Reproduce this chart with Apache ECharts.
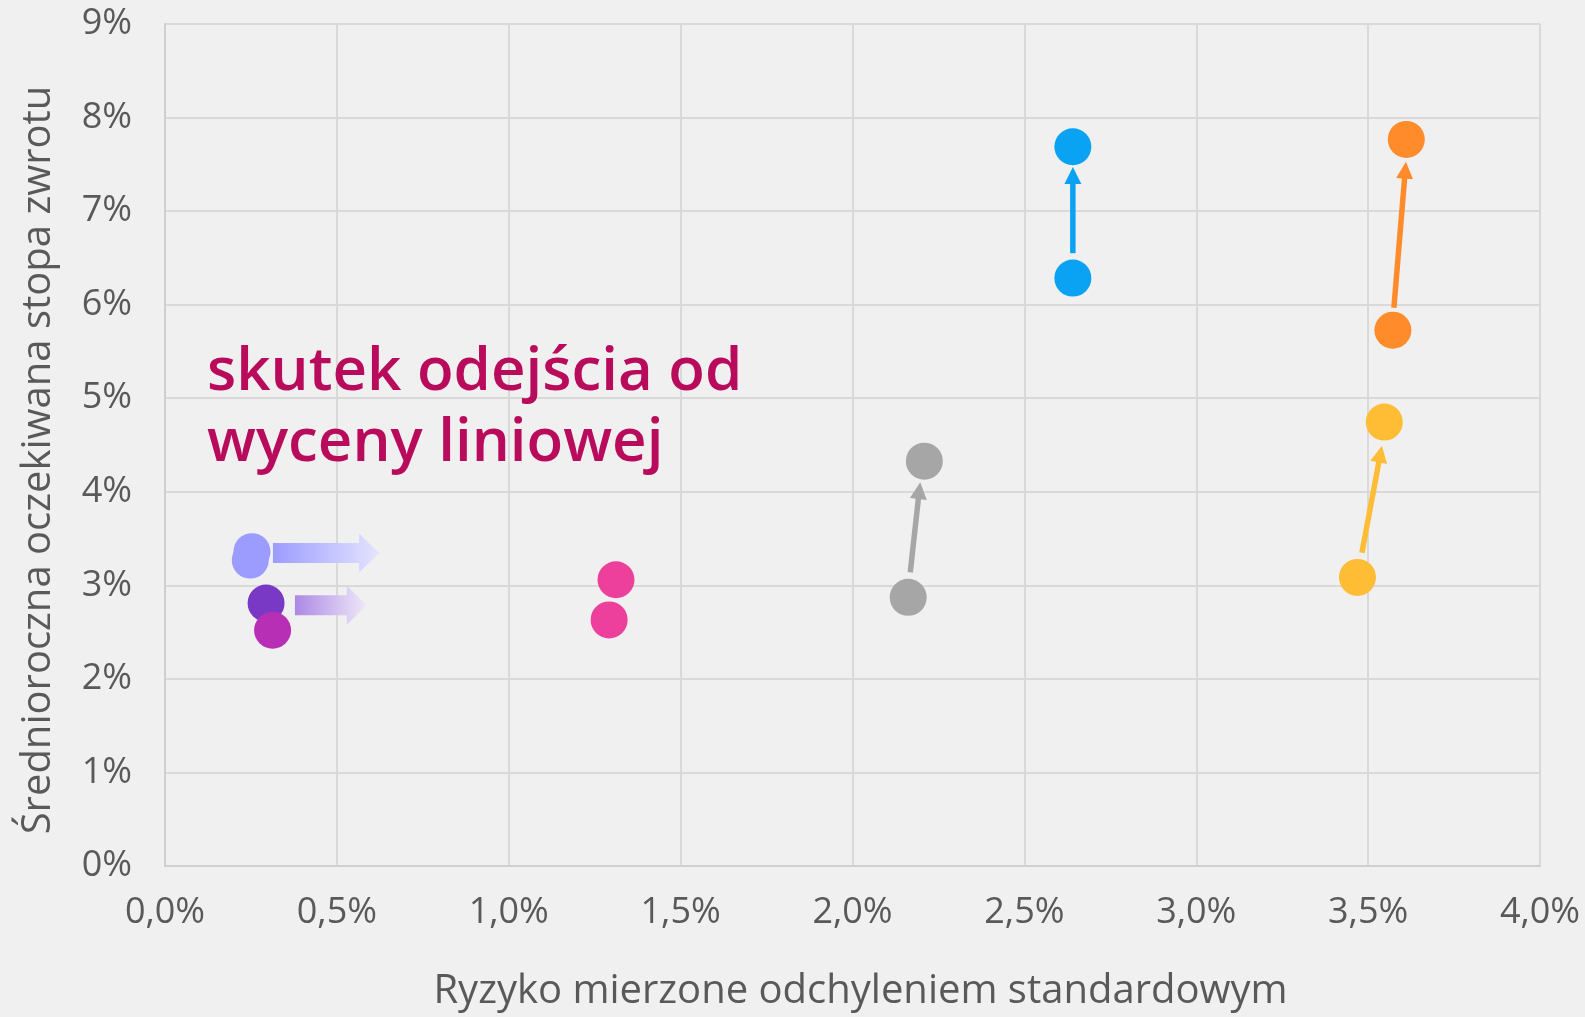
<!DOCTYPE html>
<html>
<head>
<meta charset="utf-8">
<script src="https://cdn.jsdelivr.net/npm/echarts@6/dist/echarts.min.js"></script>
<style>
  html, body { margin: 0; padding: 0; background: #F0F0F0; }
  #chart { width: 1585px; height: 1017px; }
</style>
</head>
<body>
<div id="chart"></div>
<script>
// ---- data ----
const xTickValues = [0, 0.5, 1, 1.5, 2, 2.5, 3, 3.5, 4];
const yTickValues = [0, 1, 2, 3, 4, 5, 6, 7, 8, 9];
const xAxisTitle = 'Ryzyko mierzone odchyleniem standardowym';
const yAxisTitle = 'Średnioroczna oczekiwana stopa zwrotu';
const annotationLines = ['skutek odejścia od', 'wyceny liniowej'];

// points (risk %, return %), group index
const pointRisk   = [0.253, 0.248, 0.294, 0.313, 1.312, 1.292, 2.162, 2.209, 2.641, 2.641, 3.469, 3.547, 3.572, 3.611];
const pointReturn = [3.36,  3.27,  2.81,  2.52,  3.06,  2.63,  2.872, 4.327, 6.284, 7.688, 3.085, 4.745, 5.727, 7.766];
const pointGroup  = [0, 0, 1, 2, 3, 3, 4, 4, 5, 5, 6, 6, 7, 7];

// line arrows (from -> to)
const arrowFromRisk   = [2.168, 2.641, 3.482, 3.575];
const arrowFromReturn = [3.138, 6.55,  3.348, 5.968];
const arrowToRisk     = [2.197, 2.641, 3.540, 3.610];
const arrowToReturn   = [4.103, 7.471, 4.493, 7.528];
const arrowGroup      = [4, 5, 6, 7];

// block (gradient) arrows, horizontal
const blockFromRisk = [0.314, 0.378];
const blockToRisk   = [0.623, 0.587];
const blockReturn   = [3.346, 2.787];
const blockGroup    = [0, 1];

// ---- styles ----
const groupColors = ['#9C9CFF', '#7A39C5', '#B72FB5', '#ED3F9C', '#A6A6A6', '#0AA2F2', '#FFBD36', '#FF8B2B'];
const blockEndColors = ['#E4E4FF', '#EFE9F9'];
const blockStartColors = ['#9C9CFF', '#AC88E4'];
const textColor = '#595959';
const gridColor = '#D9D9D9';
const fontFamily = '"Open Sans", Lato, sans-serif';

const chart = echarts.init(document.getElementById('chart'), null, { renderer: 'canvas' });

const pointData = pointRisk.map((x, i) => ({
  value: [x, pointReturn[i]],
  itemStyle: { color: groupColors[pointGroup[i]], opacity: 1 }
}));
const arrowData = arrowFromRisk.map((x, i) => [x, arrowFromReturn[i], arrowToRisk[i], arrowToReturn[i], arrowGroup[i]]);
const blockData = blockFromRisk.map((x, i) => [x, blockReturn[i], blockToRisk[i], blockReturn[i], blockGroup[i]]);

function renderLineArrow(params, api) {
  const s = api.coord([api.value(0), api.value(1)]);
  const e = api.coord([api.value(2), api.value(3)]);
  const color = groupColors[api.value(4)];
  const dx = e[0] - s[0], dy = e[1] - s[1];
  const len = Math.hypot(dx, dy);
  const ux = dx / len, uy = dy / len;
  const px = -uy, py = ux;
  const headLen = 17, headW = 8.5;
  const bx = e[0] - ux * headLen, by = e[1] - uy * headLen;
  return {
    type: 'group',
    children: [
      { type: 'line', shape: { x1: s[0], y1: s[1], x2: bx + ux * 2, y2: by + uy * 2 },
        style: { stroke: color, lineWidth: 5.5 } },
      { type: 'polygon', shape: { points: [[e[0], e[1]], [bx + px * headW, by + py * headW], [bx - px * headW, by - py * headW]] },
        style: { fill: color } }
    ]
  };
}

function renderBlockArrow(params, api) {
  const s = api.coord([api.value(0), api.value(1)]);
  const e = api.coord([api.value(2), api.value(3)]);
  const g = api.value(4);
  const bodyH = 10, headH = 19.5, headLen = 20;
  const bx = e[0] - headLen;
  const y = s[1];
  return {
    type: 'polygon',
    shape: { points: [
      [s[0], y - bodyH], [bx, y - bodyH], [bx, y - headH], [e[0], y],
      [bx, y + headH], [bx, y + bodyH], [s[0], y + bodyH]
    ] },
    style: {
      fill: { type: 'linear', x: 0, y: 0, x2: 1, y2: 0,
        colorStops: [{ offset: 0, color: blockStartColors[g] }, { offset: 1, color: blockEndColors[g] }] }
    }
  };
}

chart.setOption({
  backgroundColor: '#F0F0F0',
  animation: false,
  grid: { left: 165, right: 45, top: 24, bottom: 147, containLabel: false },
  xAxis: {
    type: 'value', min: 0, max: 4, interval: 0.5,
    name: xAxisTitle, nameLocation: 'middle', nameGap: 106,
    nameTextStyle: { color: textColor, fontSize: 40, fontFamily: fontFamily, padding: [0, 0, 0, 16] },
    axisLine: { show: true, lineStyle: { color: '#CFCFCF', width: 2 } },
    axisTick: { show: false },
    splitLine: { show: true, lineStyle: { color: gridColor, width: 2 } },
    axisLabel: {
      color: textColor, fontSize: 36, fontFamily: fontFamily, margin: 29,
      formatter: v => v.toFixed(1).replace('.', ',') + '%'
    }
  },
  yAxis: {
    type: 'value', min: 0, max: 9, interval: 1,
    name: yAxisTitle, nameLocation: 'middle', nameGap: 106,
    nameTextStyle: { color: textColor, fontSize: 40, fontFamily: fontFamily, padding: [0, 30, 0, 0] },
    axisLine: { show: true, lineStyle: { color: '#CFCFCF', width: 2 } },
    axisTick: { show: false },
    splitLine: { show: true, lineStyle: { color: gridColor, width: 2 } },
    axisLabel: {
      color: textColor, fontSize: 36, fontFamily: fontFamily, margin: 33,
      formatter: v => v + '%'
    }
  },
  series: [
    { type: 'custom', name: 'blockArrows', renderItem: renderBlockArrow, data: blockData,
      encode: { x: [0, 2], y: [1, 3] }, z: 2, silent: true },
    { type: 'custom', name: 'lineArrows', renderItem: renderLineArrow, data: arrowData,
      encode: { x: [0, 2], y: [1, 3] }, z: 2, silent: true },
    { type: 'scatter', name: 'points', symbol: 'circle', symbolSize: 37, data: pointData, z: 3,
      itemStyle: { opacity: 1 } }
  ],
  graphic: [
    { type: 'text', left: 207, top: 337, z: 10,
      style: { text: annotationLines.join('\n'), fill: '#B90B5C', font: '600 60px ' + fontFamily, lineHeight: 71 } }
  ]
});
</script>
</body>
</html>
